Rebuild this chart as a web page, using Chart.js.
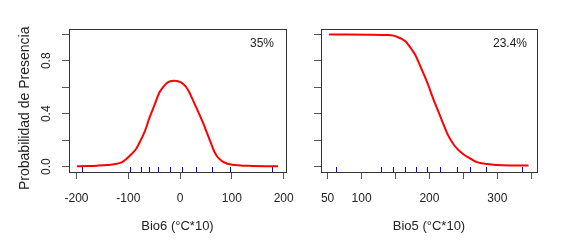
<!DOCTYPE html>
<html>
<head>
<meta charset="utf-8">
<script src="https://cdn.jsdelivr.net/npm/chart.js@4.4.1/dist/chart.umd.min.js"></script>
<style>
  html, body { margin: 0; padding: 0; background: #fff; }
  #wrap { position: relative; width: 567px; height: 249px; }
  canvas { position: absolute; top: 0; }
</style>
</head>
<body>
<div id="wrap">
  <canvas id="bio6Chart" width="300" height="249" style="left:0"></canvas>
  <canvas id="bio5Chart" width="267" height="249" style="left:300px"></canvas>
</div>
<script>
// Bio6 - curva de respuesta
const bio6X = [-199, -180, -160, -140, -125, -113, -105, -97, -90, -84, -78, -71, -65, -60, -54, -48, -40, -33, -26, -19, -13, -6, 0, 6, 12, 18, 24, 32, 39, 46, 52, 60, 66, 72, 80, 88, 96, 105, 120, 140, 165, 189];
const bio6Prob = [0.003, 0.005, 0.008, 0.013, 0.02, 0.032, 0.055, 0.083, 0.11, 0.14, 0.185, 0.24, 0.30, 0.36, 0.42, 0.48, 0.56, 0.60, 0.63, 0.645, 0.65, 0.648, 0.64, 0.625, 0.60, 0.56, 0.51, 0.44, 0.38, 0.315, 0.255, 0.175, 0.115, 0.075, 0.045, 0.028, 0.018, 0.012, 0.008, 0.006, 0.004, 0.003];
const bio6Rug = [-189, -97, -76, -60, -43, -20, 4, 31, 62, 97, 178];
const bio6Ticks = [-200, -100, 0, 100, 200];

// Bio5 - curva de respuesta
const bio5X = [52, 80, 110, 135, 147, 155, 160, 165, 169, 174, 179, 184, 189, 194, 199, 204, 209, 216, 221, 226, 231, 236, 241, 245, 251, 258, 264, 270, 277, 285, 299, 320, 346];
const bio5Prob = [0.998, 0.998, 0.997, 0.995, 0.99, 0.975, 0.963, 0.945, 0.92, 0.885, 0.845, 0.79, 0.73, 0.67, 0.606, 0.535, 0.468, 0.38, 0.315, 0.254, 0.205, 0.166, 0.135, 0.115, 0.09, 0.068, 0.05, 0.035, 0.026, 0.02, 0.012, 0.01, 0.01];
const bio5Rug = [62, 129, 147, 164, 180, 196, 215, 240, 260, 283, 336];
const bio5Ticks = [50, 100, 200, 300];

const probTicks = [0, 0.4, 0.8];

const curveColor = '#ff0000';
const rugColor = '#0000ff';
const boxColor = '#333333';
const tickColor = '#555555';
const textColor = '#222222';

Chart.defaults.font.family = '"Liberation Sans", Arial, sans-serif';
Chart.defaults.font.size = 12;
Chart.defaults.color = textColor;

// caja, rug y porcentaje
const framePlugin = {
  id: 'frame',
  afterDatasetsDraw(chart, args, opts) {
    const { ctx, chartArea: a, scales } = chart;
    ctx.save();
    ctx.strokeStyle = rugColor;
    ctx.lineWidth = 1;
    opts.rug.forEach(v => {
      const px = Math.round(scales.x.getPixelForValue(v)) + 0.5;
      ctx.beginPath();
      ctx.moveTo(px, a.bottom);
      ctx.lineTo(px, a.bottom - 5);
      ctx.stroke();
    });
    ctx.strokeStyle = boxColor;
    ctx.strokeRect(Math.round(a.left) + 0.5, Math.round(a.top) + 0.5,
      Math.round(a.right - a.left), Math.round(a.bottom - a.top));
    ctx.fillStyle = textColor;
    ctx.font = '12px "Liberation Sans", Arial, sans-serif';
    ctx.textAlign = 'right';
    ctx.textBaseline = 'middle';
    ctx.fillText(opts.note, a.right - opts.noteInset, a.top + 15);
    ctx.restore();
  }
};

function createChart(canvas, xs, ys, cfg) {
  return new Chart(canvas, {
    type: 'line',
    data: {
      datasets: [{
        data: xs.map((x, i) => ({ x: x, y: ys[i] })),
        borderColor: curveColor,
        borderWidth: 2,
        pointRadius: 0,
        cubicInterpolationMode: 'monotone',
        fill: false
      }]
    },
    options: {
      responsive: false,
      animation: false,
      devicePixelRatio: 1,
      layout: { padding: cfg.padding },
      plugins: {
        legend: { display: false },
        tooltip: { enabled: false },
        frame: { rug: cfg.rug, note: cfg.note, noteInset: cfg.noteInset }
      },
      scales: {
        x: {
          type: 'linear',
          min: cfg.xMin,
          max: cfg.xMax,
          afterFit: s => { s.height = 77; s.paddingLeft = 0; s.paddingRight = 0; },
          ticks: {
            stepSize: cfg.xStep,
            includeBounds: false,
            autoSkip: false,
            maxRotation: 0,
            padding: 12,
            callback: v => cfg.xLabels.includes(v) ? String(v) : ''
          },
          grid: { drawOnChartArea: false, tickLength: 7, color: tickColor },
          border: { display: false },
          title: {
            display: true,
            text: cfg.xTitle,
            font: { size: 13 },
            padding: { top: 0, bottom: 15 }
          }
        },
        y: {
          type: 'linear',
          min: -0.04,
          max: 1.04,
          afterFit: s => { s.width = cfg.yWidth; s.paddingTop = 0; s.paddingBottom = 0; },
          ticks: {
            stepSize: 0.2,
            includeBounds: false,
            minRotation: 90,
            maxRotation: 90,
            crossAlign: 'center',
            padding: 7,
            callback: v => (cfg.showY && probTicks.some(t => Math.abs(t - v) < 1e-6)) ? v.toFixed(1) : ''
          },
          grid: { drawOnChartArea: false, tickLength: 7, color: tickColor },
          border: { display: false },
          title: {
            display: cfg.showY,
            // espacios finales: desplazan el título hacia abajo como en R
            text: 'Probabilidad de Presencia    ',
            font: { size: 14 },
            padding: { top: 17, bottom: 0 }
          }
        }
      }
    },
    plugins: [framePlugin]
  });
}

createChart(document.getElementById('bio6Chart'), bio6X, bio6Prob, {
  padding: { left: 0, right: 14, top: 29, bottom: 0 },
  xMin: -214.5, xMax: 204.5, xStep: 100, xLabels: bio6Ticks,
  xTitle: 'Bio6 (°C*10)', yWidth: 69, showY: true,
  rug: bio6Rug, note: '35%', noteInset: 12
});

createChart(document.getElementById('bio5Chart'), bio5X, bio5Prob, {
  padding: { left: 0, right: 30, top: 29, bottom: 0 },
  xMin: 40.3, xMax: 358.4, xStep: 50, xLabels: bio5Ticks,
  xTitle: 'Bio5 (°C*10)', yWidth: 21, showY: false,
  rug: bio5Rug, note: '23.4%', noteInset: 10
});
</script>
</body>
</html>
